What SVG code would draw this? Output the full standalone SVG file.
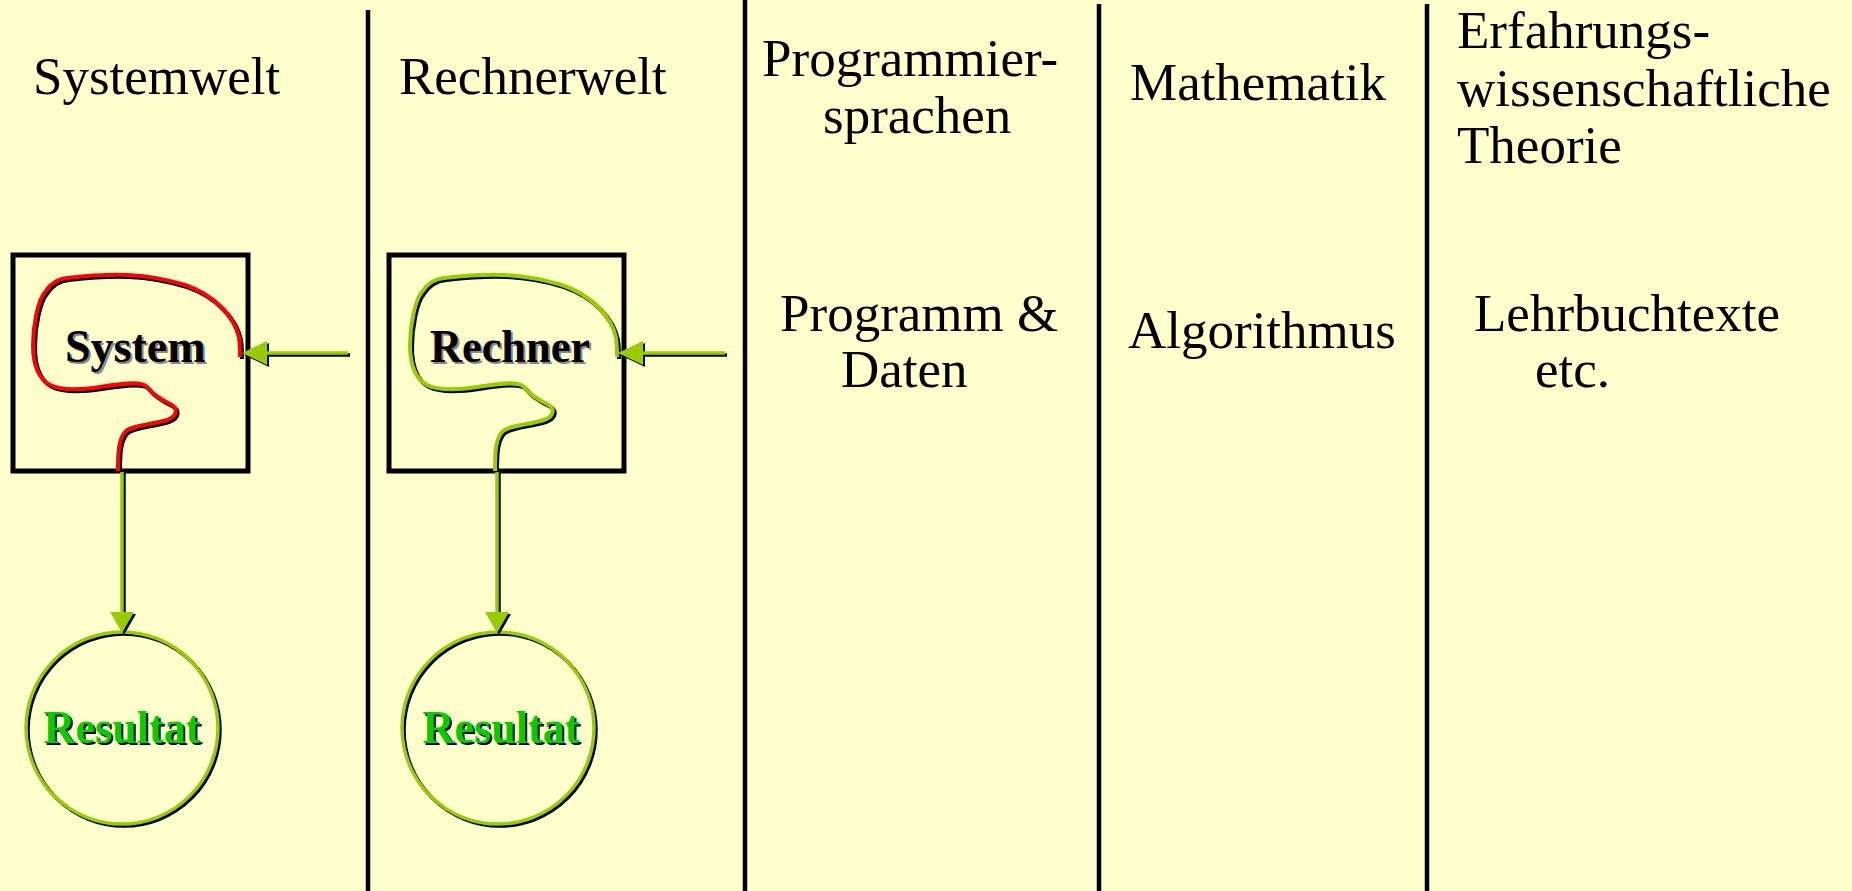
<svg xmlns="http://www.w3.org/2000/svg" xmlns:xlink="http://www.w3.org/1999/xlink" width="1852" height="891" viewBox="0 0 1852 891">
<style>
.t{font-family:"Liberation Serif","Times New Roman",serif;font-size:53px;fill:#000}
.b{font-family:"Liberation Serif","Times New Roman",serif;font-size:46px;font-weight:bold}
.sep{stroke:#000;stroke-width:4.5;fill:none}
.box{fill:none;stroke:#000;stroke-width:5}
.shadow{fill:none;stroke:#000;stroke-width:3.5}
.grn{fill:none;stroke:#99cc00;stroke-width:3.5}
.head{fill:#99cc00;stroke:none}
.headsh{fill:#000;stroke:none}
</style>
<defs>
<path id="blob" fill="none" d="M118,471 C118,455 118,440 125,432 C130,426 150,425 167,420 C178,416 178,408 170,404 C160,399 152,394 147,387 C143,382 130,382 100,387 C80,390 62,391 50,385 C37,378 33,362 33,345 C33,325 38,300 45,292 C50,284 56,279 67,278 C85,276 105,274 127,275 C150,276 165,279 185,285 C215,295 235,318 239,338 C240,345 240,352 240,357"/>
</defs>
<rect x="0" y="0" width="1852" height="891" fill="#ffffcc"/>

<g id="separators">
<line class="sep" x1="368" y1="10" x2="368" y2="891"/>
<line class="sep" x1="745" y1="0" x2="745" y2="891"/>
<line class="sep" x1="1099" y1="4" x2="1099" y2="891"/>
<line class="sep" x1="1427" y1="4" x2="1427" y2="891"/>
</g>

<g id="headers">
<text class="t" x="33" y="94">Systemwelt</text>
<text class="t" x="399" y="94">Rechnerwelt</text>
<text class="t" x="762" y="76">Programmier-</text>
<text class="t" x="823" y="133">sprachen</text>
<text class="t" x="1130" y="100">Mathematik</text>
<text class="t" x="1457" y="48">Erfahrungs-</text>
<text class="t" x="1457" y="106">wissenschaftliche</text>
<text class="t" x="1457" y="163">Theorie</text>
</g>

<g id="col-texts">
<text class="t" x="780" y="331">Programm &amp;</text>
<text class="t" x="841" y="387">Daten</text>
<text class="t" x="1128" y="348">Algorithmus</text>
<text class="t" x="1474" y="331">Lehrbuchtexte</text>
<text class="t" x="1535" y="387">etc.</text>
</g>

<g id="system">
<rect class="box" x="13" y="255" width="235" height="216"/>
<use xlink:href="#blob" transform="translate(2,2)" stroke="#000" stroke-width="4"/>
<use xlink:href="#blob" stroke="#ff0000" stroke-width="4"/>
<text class="b" x="67" y="364" fill="#888">System</text>
<text class="b" x="65" y="362" fill="#000">System</text>
</g>

<g id="rechner">
<rect class="box" x="389" y="255" width="235" height="216"/>
<use xlink:href="#blob" transform="translate(379,2)" stroke="#000" stroke-width="4"/>
<use xlink:href="#blob" transform="translate(377,0)" stroke="#99cc00" stroke-width="4"/>
<text class="b" x="432" y="364" fill="#888" textLength="160" lengthAdjust="spacingAndGlyphs">Rechner</text>
<text class="b" x="430" y="362" fill="#000" textLength="160" lengthAdjust="spacingAndGlyphs">Rechner</text>
</g>

<g id="resultat1">
<circle class="shadow" cx="124" cy="730" r="96"/>
<circle class="grn" cx="122" cy="728" r="96"/>
<text class="b" x="124" y="745" text-anchor="middle" fill="#000" textLength="157" lengthAdjust="spacingAndGlyphs">Resultat</text>
<text class="b" x="122" y="743" text-anchor="middle" fill="#00cc00" textLength="157" lengthAdjust="spacingAndGlyphs">Resultat</text>
</g>

<g id="resultat2">
<circle class="shadow" cx="500" cy="730" r="96"/>
<circle class="grn" cx="498" cy="728" r="96"/>
<text class="b" x="503" y="745" text-anchor="middle" fill="#000" textLength="157" lengthAdjust="spacingAndGlyphs">Resultat</text>
<text class="b" x="501" y="743" text-anchor="middle" fill="#00cc00" textLength="157" lengthAdjust="spacingAndGlyphs">Resultat</text>
</g>

<g id="connectors">
<line class="shadow" x1="266" y1="355" x2="350" y2="355"/>
<polygon class="headsh" points="244,355 269,343 269,367"/>
<line class="grn" x1="266" y1="353" x2="348" y2="353"/>
<polygon class="head" points="242,353 267,341 267,365"/>
<line class="shadow" x1="642" y1="355" x2="727" y2="355"/>
<polygon class="headsh" points="620,355 645,343 645,367"/>
<line class="grn" x1="642" y1="353" x2="725" y2="353"/>
<polygon class="head" points="618,353 643,341 643,365"/>
<line class="shadow" x1="124" y1="473" x2="124" y2="614"/>
<polygon class="headsh" points="124,635 112,614 136,614"/>
<line class="grn" x1="122" y1="472" x2="122" y2="613"/>
<polygon class="head" points="122,633 110,612 134,612"/>
<line class="shadow" x1="499" y1="473" x2="499" y2="614"/>
<polygon class="headsh" points="499,635 487,614 511,614"/>
<line class="grn" x1="497" y1="472" x2="497" y2="613"/>
<polygon class="head" points="497,633 485,612 509,612"/>
</g>
</svg>
